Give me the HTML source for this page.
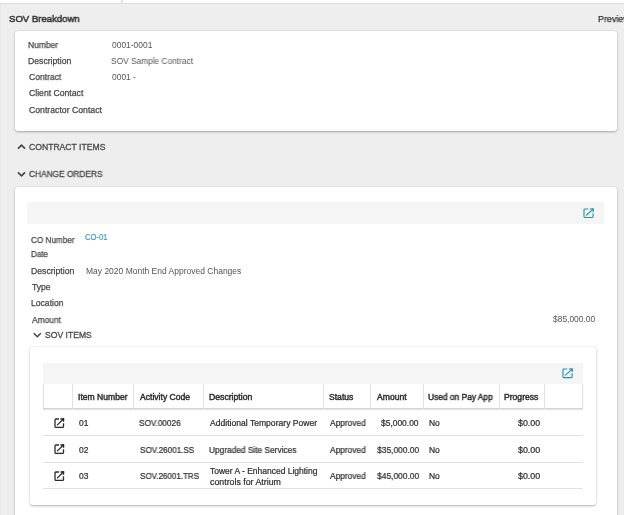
<!DOCTYPE html>
<html><head><meta charset="utf-8">
<style>
*{margin:0;padding:0;box-sizing:border-box}
html,body{width:624px;height:515px;overflow:hidden}
body{background:#eeeeee;position:relative;font-family:"Liberation Sans",sans-serif;color:#444;-webkit-font-smoothing:antialiased}
.a{position:absolute}
.t{position:absolute;white-space:nowrap;line-height:1;will-change:transform}
.card{position:absolute;background:#fff;border-radius:3px;box-shadow:0 1px 3px rgba(0,0,0,.2),0 0.5px 1.5px rgba(0,0,0,.13)}
.gbar{position:absolute;background:#f5f5f5}
.cl{position:absolute;width:1px;background:#e2e2e2}
.hl{position:absolute;height:1px;background:#e2e2e2}
</style></head><body>
<div class="a" style="left:0;top:0;width:624px;height:4px;background:#fff;border-bottom:1px solid #dedede"></div>
<div class="a" style="left:121px;top:0;width:2px;height:4px;background:#e2e2e2"></div>
<div class="a" style="left:0;top:4px;width:1px;height:511px;background:#e8e8e8"></div>
<div class="card" style="left:14.5px;top:30.6px;width:602.6px;height:100.4px"></div>
<div class="card" style="left:14.5px;top:186.8px;width:602.6px;height:340px"></div>
<div class="gbar" style="left:27px;top:202.1px;width:577px;height:21.6px"></div>
<div class="card" style="left:29.5px;top:347.2px;width:566.5px;height:157.9px"></div>
<div class="gbar" style="left:43px;top:362.7px;width:540px;height:21.7px"></div>
<div class="a" style="left:42.7px;top:384.4px;width:540px;height:24.6px;border-left:1px solid #e2e2e2;border-right:1px solid #e2e2e2;border-bottom:1px solid #d4d4d4;box-shadow:0 1px 1px rgba(0,0,0,.1)"></div>
<div class="cl" style="left:72px;top:384.4px;height:24.2px"></div>
<div class="cl" style="left:133px;top:384.4px;height:24.2px"></div>
<div class="cl" style="left:203px;top:384.4px;height:24.2px"></div>
<div class="cl" style="left:323px;top:384.4px;height:24.2px"></div>
<div class="cl" style="left:370px;top:384.4px;height:24.2px"></div>
<div class="cl" style="left:423px;top:384.4px;height:24.2px"></div>
<div class="cl" style="left:499px;top:384.4px;height:24.2px"></div>
<div class="cl" style="left:544px;top:384.4px;height:24.2px"></div>
<div class="hl" style="left:42.7px;top:435px;width:540.3px"></div>
<div class="hl" style="left:42.7px;top:462px;width:540.3px"></div>
<div class="hl" style="left:42.7px;top:487.5px;width:540.3px"></div>
<svg class="a" style="left:0;top:0" width="624" height="515"><path d="M18 148.6L21.5 145.1L25 148.6" fill="none" stroke="#444" stroke-width="1.6"/><path d="M18 172.4L21.5 175.9L25 172.4" fill="none" stroke="#444" stroke-width="1.6"/><path d="M33.8 333.2L37.3 336.7L40.8 333.2" fill="none" stroke="#444" stroke-width="1.6"/></svg>
<div class="t" id="title" style="left:9.21px;top:14px;font-size:9.6px;color:#333;-webkit-text-stroke:.5px #333;transform:scaleX(0.9956);transform-origin:0 0">SOV Breakdown</div>
<div class="t" id="prev" style="left:597.66px;top:14px;font-size:9.6px;color:#333;-webkit-text-stroke:.25px #333;transform:scaleX(0.9300);transform-origin:0 0">Preview</div>
<div class="t" id="c1l1" style="left:28.24px;top:40.5px;font-size:8.6px;color:#474747;-webkit-text-stroke:.25px #474747;transform:scaleX(0.9798);transform-origin:0 0">Number</div>
<div class="t" id="c1l2" style="left:28.24px;top:56.8px;font-size:8.6px;color:#474747;-webkit-text-stroke:.25px #474747;transform:scaleX(1.0077);transform-origin:0 0">Description</div>
<div class="t" id="c1l3" style="left:28.51px;top:73.3px;font-size:8.6px;color:#474747;-webkit-text-stroke:.25px #474747;transform:scaleX(0.9908);transform-origin:0 0">Contract</div>
<div class="t" id="c1l4" style="left:28.51px;top:89.3px;font-size:8.6px;color:#474747;-webkit-text-stroke:.25px #474747;transform:scaleX(1.0061);transform-origin:0 0">Client Contact</div>
<div class="t" id="c1l5" style="left:28.51px;top:105.5px;font-size:8.6px;color:#474747;-webkit-text-stroke:.25px #474747;transform:scaleX(1.0111);transform-origin:0 0">Contractor Contact</div>
<div class="t" id="c1v1" style="left:111.52px;top:40.5px;font-size:8.45px;color:#555;transform:scaleX(0.9962);transform-origin:0 0">0001-0001</div>
<div class="t" id="c1v2" style="left:111.47px;top:56.8px;font-size:8.45px;color:#555;transform:scaleX(0.9884);transform-origin:0 0">SOV Sample Contract</div>
<div class="t" id="c1v3" style="left:111.52px;top:73.3px;font-size:8.45px;color:#555;transform:scaleX(0.9810);transform-origin:0 0">0001 -</div>
<div class="t" id="sec1" style="left:28.81px;top:142.5px;font-size:8.6px;color:#4a4a4a;-webkit-text-stroke:.3px #4a4a4a;transform:scaleX(1.0022);transform-origin:0 0">CONTRACT ITEMS</div>
<div class="t" id="sec2" style="left:28.81px;top:170px;font-size:8.6px;color:#4a4a4a;-webkit-text-stroke:.3px #4a4a4a;transform:scaleX(0.9684);transform-origin:0 0">CHANGE ORDERS</div>
<div class="t" id="c2l1" style="left:31.41px;top:235.7px;font-size:8.6px;color:#474747;-webkit-text-stroke:.25px #474747;transform:scaleX(0.9481);transform-origin:0 0">CO Number</div>
<div class="t" id="c2v1" style="left:84.99px;top:232.6px;font-size:9.0px;color:#3f97b5;-webkit-text-stroke:.2px #3f97b5;transform:scaleX(0.8473);transform-origin:0 0">CO-01</div>
<div class="t" id="c2l2" style="left:31.14px;top:250.2px;font-size:8.6px;color:#474747;-webkit-text-stroke:.25px #474747;transform:scaleX(0.9391);transform-origin:0 0">Date</div>
<div class="t" id="c2l3" style="left:31.14px;top:266.7px;font-size:8.6px;color:#474747;-webkit-text-stroke:.25px #474747;transform:scaleX(1.0077);transform-origin:0 0">Description</div>
<div class="t" id="c2v3" style="left:85.56px;top:266.7px;font-size:8.45px;color:#555;transform:scaleX(1.0063);transform-origin:0 0">May 2020 Month End Approved Changes</div>
<div class="t" id="c2l4" style="left:31.66px;top:283.0px;font-size:8.6px;color:#474747;-webkit-text-stroke:.25px #474747;transform:scaleX(0.9932);transform-origin:0 0">Type</div>
<div class="t" id="c2l5" style="left:31.14px;top:299.4px;font-size:8.6px;color:#474747;-webkit-text-stroke:.25px #474747;transform:scaleX(0.9957);transform-origin:0 0">Location</div>
<div class="t" id="c2l6" style="left:31.83px;top:315.5px;font-size:8.6px;color:#474747;-webkit-text-stroke:.25px #474747;transform:scaleX(0.9740);transform-origin:0 0">Amount</div>
<div class="t" id="c2v6" style="right:28.70px;top:315.0px;font-size:8.45px;color:#555">$85,000.00</div>
<div class="t" id="sec3" style="left:44.56px;top:330.6px;font-size:8.6px;color:#4a4a4a;-webkit-text-stroke:.3px #4a4a4a;transform:scaleX(0.9968);transform-origin:0 0">SOV ITEMS</div>
<div class="t" id="th1" style="left:77.96px;top:393px;font-size:8.6px;color:#2e2e2e;-webkit-text-stroke:.45px #2e2e2e;transform:scaleX(0.9970);transform-origin:0 0">Item Number</div>
<div class="t" id="th2" style="left:139.73px;top:393px;font-size:8.6px;color:#2e2e2e;-webkit-text-stroke:.45px #2e2e2e">Activity Code</div>
<div class="t" id="th3" style="left:209.04px;top:393px;font-size:8.6px;color:#2e2e2e;-webkit-text-stroke:.45px #2e2e2e;transform:scaleX(1.0077);transform-origin:0 0">Description</div>
<div class="t" id="th4" style="left:329.26px;top:393px;font-size:8.6px;color:#2e2e2e;-webkit-text-stroke:.45px #2e2e2e">Status</div>
<div class="t" id="th5" style="left:376.53px;top:393px;font-size:8.6px;color:#2e2e2e;-webkit-text-stroke:.45px #2e2e2e">Amount</div>
<div class="t" id="th6" style="left:428.29px;top:393px;font-size:8.6px;color:#2e2e2e;-webkit-text-stroke:.45px #2e2e2e;transform:scaleX(0.9739);transform-origin:0 0">Used on Pay App</div>
<div class="t" id="th7" style="left:503.94px;top:393px;font-size:8.6px;color:#2e2e2e;-webkit-text-stroke:.45px #2e2e2e">Progress</div>
<div class="t" id="r0c0" style="left:78.62px;top:419px;font-size:8.45px;color:#2e2e2e;-webkit-text-stroke:.22px #2e2e2e">01</div>
<div class="t" id="r0c1" style="left:139.17px;top:419px;font-size:8.45px;color:#2e2e2e;-webkit-text-stroke:.22px #2e2e2e;transform:scaleX(0.9702);transform-origin:0 0">SOV.00026</div>
<div class="t" id="r0c2" style="left:210.13px;top:419px;font-size:8.45px;color:#2e2e2e;-webkit-text-stroke:.22px #2e2e2e;transform:scaleX(1.0166);transform-origin:0 0">Additional Temporary Power</div>
<div class="t" id="r0c3" style="left:330.03px;top:419px;font-size:8.45px;color:#2e2e2e;-webkit-text-stroke:.22px #2e2e2e;transform:scaleX(0.9867);transform-origin:0 0">Approved</div>
<div class="t" id="r0c4" style="right:205.00px;top:419px;font-size:8.45px;color:#2e2e2e;-webkit-text-stroke:.22px #2e2e2e">$5,000.00</div>
<div class="t" id="r0c5" style="left:428.96px;top:419px;font-size:8.45px;color:#2e2e2e;-webkit-text-stroke:.22px #2e2e2e">No</div>
<div class="t" id="r0c6" style="right:83.60px;top:419px;font-size:8.45px;color:#2e2e2e;-webkit-text-stroke:.22px #2e2e2e;transform:scaleX(1.0465);transform-origin:100% 0">$0.00</div>
<div class="t" id="r1c0" style="left:78.62px;top:445.5px;font-size:8.45px;color:#2e2e2e;-webkit-text-stroke:.22px #2e2e2e">02</div>
<div class="t" id="r1c1" style="left:139.87px;top:445.5px;font-size:8.45px;color:#2e2e2e;-webkit-text-stroke:.22px #2e2e2e;transform:scaleX(0.9601);transform-origin:0 0">SOV.26001.SS</div>
<div class="t" id="r1c2" style="left:209.40px;top:445.5px;font-size:8.45px;color:#2e2e2e;-webkit-text-stroke:.22px #2e2e2e;transform:scaleX(0.9857);transform-origin:0 0">Upgraded Site Services</div>
<div class="t" id="r1c3" style="left:330.03px;top:445.5px;font-size:8.45px;color:#2e2e2e;-webkit-text-stroke:.22px #2e2e2e;transform:scaleX(0.9867);transform-origin:0 0">Approved</div>
<div class="t" id="r1c4" style="right:205.00px;top:445.5px;font-size:8.45px;color:#2e2e2e;-webkit-text-stroke:.22px #2e2e2e;transform:scaleX(0.9966);transform-origin:100% 0">$35,000.00</div>
<div class="t" id="r1c5" style="left:428.96px;top:445.5px;font-size:8.45px;color:#2e2e2e;-webkit-text-stroke:.22px #2e2e2e">No</div>
<div class="t" id="r1c6" style="right:83.60px;top:445.5px;font-size:8.45px;color:#2e2e2e;-webkit-text-stroke:.22px #2e2e2e;transform:scaleX(1.0465);transform-origin:100% 0">$0.00</div>
<div class="t" id="r2c0" style="left:78.62px;top:472px;font-size:8.45px;color:#2e2e2e;-webkit-text-stroke:.22px #2e2e2e">03</div>
<div class="t" id="r2c1" style="left:139.87px;top:472px;font-size:8.45px;color:#2e2e2e;-webkit-text-stroke:.22px #2e2e2e;transform:scaleX(0.9511);transform-origin:0 0">SOV.26001.TRS</div>
<div class="t" id="r2c3" style="left:330.03px;top:472px;font-size:8.45px;color:#2e2e2e;-webkit-text-stroke:.22px #2e2e2e;transform:scaleX(0.9867);transform-origin:0 0">Approved</div>
<div class="t" id="r2c4" style="right:205.00px;top:472px;font-size:8.45px;color:#2e2e2e;-webkit-text-stroke:.22px #2e2e2e;transform:scaleX(0.9966);transform-origin:100% 0">$45,000.00</div>
<div class="t" id="r2c5" style="left:428.96px;top:472px;font-size:8.45px;color:#2e2e2e;-webkit-text-stroke:.22px #2e2e2e">No</div>
<div class="t" id="r2c6" style="right:83.60px;top:472px;font-size:8.45px;color:#2e2e2e;-webkit-text-stroke:.22px #2e2e2e;transform:scaleX(1.0465);transform-origin:100% 0">$0.00</div>
<div class="t" id="r2d1" style="left:210.46px;top:467px;font-size:8.45px;color:#2e2e2e;-webkit-text-stroke:.22px #2e2e2e;transform:scaleX(1.0045);transform-origin:0 0">Tower A - Enhanced Lighting</div>
<div class="t" id="r2d2" style="left:210.29px;top:477.5px;font-size:8.45px;color:#2e2e2e;-webkit-text-stroke:.22px #2e2e2e;transform:scaleX(1.0425);transform-origin:0 0">controls for Atrium</div>
<svg class="a" style="left:582.20px;top:206.60px" width="14" height="13" viewBox="-2 -2 14 13"><g fill="none" stroke="#2592ad" stroke-width="1.15"><path d="M4.28 0H0.9Q0 0 0 0.9V7.60Q0 8.5 0.9 8.5H8.20Q9.1 8.5 9.1 7.60V4.25"/><path d="M5.82 0H9.1V2.89"/><path d="M2.55 6.04L8.80 0.3" stroke-linecap="round"/></g><path d="M7.10 -0.57H9.67V1.96Z" fill="#2592ad"/></svg>
<svg class="a" style="left:561.00px;top:366.80px" width="14" height="13" viewBox="-2 -2 14 13"><g fill="none" stroke="#2592ad" stroke-width="1.15"><path d="M4.28 0H0.9Q0 0 0 0.9V7.70Q0 8.6 0.9 8.6H8.20Q9.1 8.6 9.1 7.70V4.30"/><path d="M5.82 0H9.1V2.92"/><path d="M2.55 6.11L8.80 0.3" stroke-linecap="round"/></g><path d="M7.10 -0.57H9.67V1.98Z" fill="#2592ad"/></svg>
<svg class="a" style="left:52.70px;top:416.70px" width="14" height="13" viewBox="-2 -2 14 13"><g fill="none" stroke="#2a2a2a" stroke-width="1.3"><path d="M3.99 0H0.9Q0 0 0 0.9V7.40Q0 8.3 0.9 8.3H7.60Q8.5 8.3 8.5 7.40V4.15"/><path d="M5.44 0H8.5V2.82"/><path d="M2.38 5.89L8.20 0.3" stroke-linecap="round"/></g><path d="M6.63 -0.65H9.15V1.91Z" fill="#2a2a2a"/></svg>
<svg class="a" style="left:52.70px;top:442.90px" width="14" height="13" viewBox="-2 -2 14 13"><g fill="none" stroke="#2a2a2a" stroke-width="1.3"><path d="M3.99 0H0.9Q0 0 0 0.9V7.40Q0 8.3 0.9 8.3H7.60Q8.5 8.3 8.5 7.40V4.15"/><path d="M5.44 0H8.5V2.82"/><path d="M2.38 5.89L8.20 0.3" stroke-linecap="round"/></g><path d="M6.63 -0.65H9.15V1.91Z" fill="#2a2a2a"/></svg>
<svg class="a" style="left:52.70px;top:469.50px" width="14" height="13" viewBox="-2 -2 14 13"><g fill="none" stroke="#2a2a2a" stroke-width="1.3"><path d="M3.99 0H0.9Q0 0 0 0.9V7.40Q0 8.3 0.9 8.3H7.60Q8.5 8.3 8.5 7.40V4.15"/><path d="M5.44 0H8.5V2.82"/><path d="M2.38 5.89L8.20 0.3" stroke-linecap="round"/></g><path d="M6.63 -0.65H9.15V1.91Z" fill="#2a2a2a"/></svg>
</body></html>
